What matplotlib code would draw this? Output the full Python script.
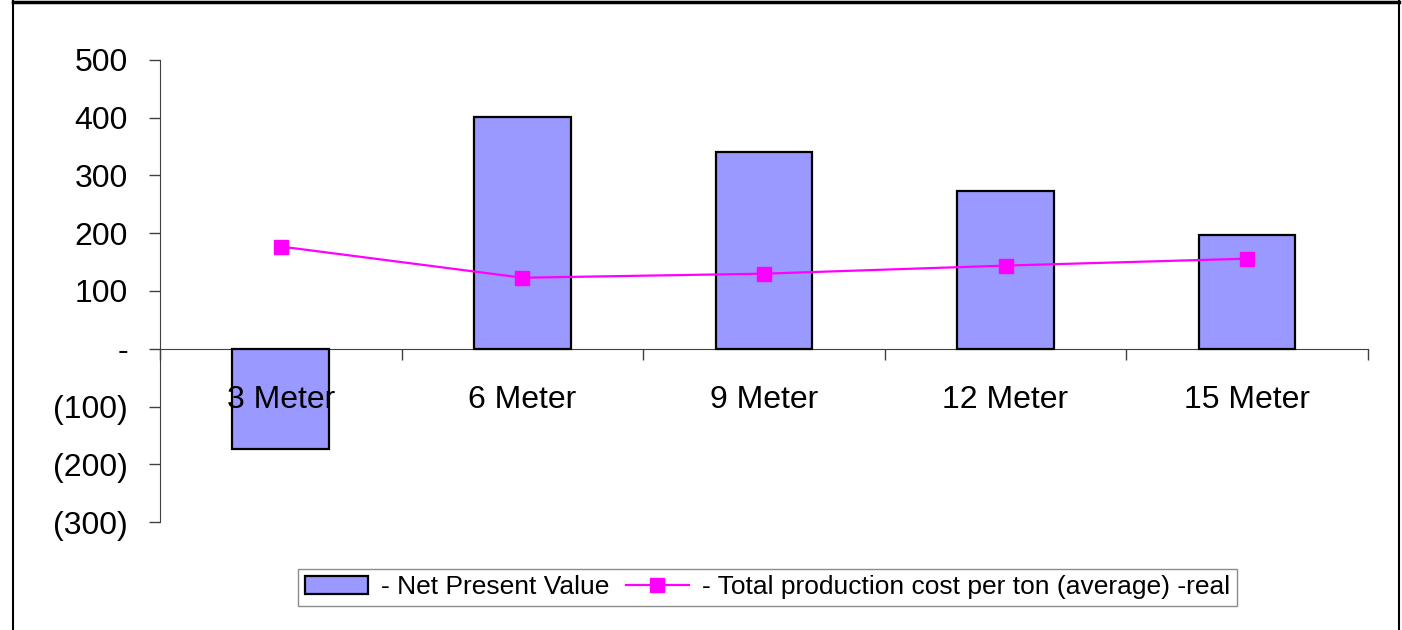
import matplotlib
matplotlib.use("Agg")
import matplotlib.pyplot as plt
from matplotlib.lines import Line2D
from matplotlib.ticker import FixedLocator, FuncFormatter

categories = ["3 Meter", "6 Meter", "9 Meter", "12 Meter", "15 Meter"]
npv = [-174, 401, 340, 274, 197]
cost_per_ton = [177, 123, 130, 144, 156]
y_ticks = [-300, -200, -100, 0, 100, 200, 300, 400, 500]

plt.rcParams["font.family"] = ["Liberation Sans", "DejaVu Sans"]

fig = plt.figure(figsize=(14.02, 6.30), dpi=100)
ax = fig.add_axes([0.1141, 0.1714, 0.8616, 0.7334])

x = list(range(len(categories)))
bars = ax.bar(x, npv, width=0.4, color="#9999FF", edgecolor="black",
              linewidth=1.6, label="- Net Present Value", zorder=2)
line, = ax.plot(x, cost_per_ton, color="#FF00FF", linewidth=1.6, marker="s",
                markersize=10,
                label="- Total production cost per ton (average) -real",
                zorder=3)

ax.set_xlim(-0.5, len(categories) - 0.5)
ax.set_ylim(-300, 500)


def acct(v, pos):
    if v == 0:
        return "-"
    if v < 0:
        return f"({abs(int(v))})"
    return f"{int(v)}"


ax.yaxis.set_major_locator(FixedLocator(y_ticks))
ax.yaxis.set_major_formatter(FuncFormatter(acct))
ax.tick_params(axis="y", direction="out", length=8, width=1, color="#404040",
               labelsize=23, pad=15)

# category boundaries as ticks, names centered between them
ax.xaxis.set_major_locator(FixedLocator([i - 0.5 for i in range(len(categories) + 1)]))
ax.xaxis.set_major_formatter(FuncFormatter(lambda v, p: ""))
ax.xaxis.set_minor_locator(FixedLocator(x))
ax.set_xticklabels(categories, minor=True)
ax.tick_params(axis="x", which="major", direction="out", length=8, width=1,
               color="#404040")
ax.tick_params(axis="x", which="minor", length=0, labelsize=23, pad=26)
# category names sit on top of the bars
ax.xaxis.set_zorder(5)

for side in ["top", "right"]:
    ax.spines[side].set_visible(False)
ax.spines["bottom"].set_position(("data", 0))
ax.spines["bottom"].set_color("#404040")
ax.spines["left"].set_color("#404040")
ax.spines["bottom"].set_zorder(1)

leg = ax.legend(handles=[bars, line], loc="center",
                bbox_to_anchor=(0.5475, 0.0675),
                bbox_transform=fig.transFigure, ncol=2, fontsize=19,
                frameon=True, fancybox=False, handlelength=2.4,
                columnspacing=0.6, handletextpad=0.5, borderpad=0.25)
leg.get_frame().set_edgecolor("#707070")
leg.get_frame().set_linewidth(1.0)

# outer frame
W, H = 1402, 630
fig.add_artist(Line2D([13 / W, 1399 / W], [1 - 1.5 / H, 1 - 1.5 / H],
                      transform=fig.transFigure, color="black", linewidth=2.5))
fig.add_artist(Line2D([13 / W, 13 / W], [0, 1], transform=fig.transFigure,
                      color="black", linewidth=1.5))
fig.add_artist(Line2D([1399 / W, 1399 / W], [0, 1], transform=fig.transFigure,
                      color="black", linewidth=1.5))

fig.savefig("out.png", dpi=100)
